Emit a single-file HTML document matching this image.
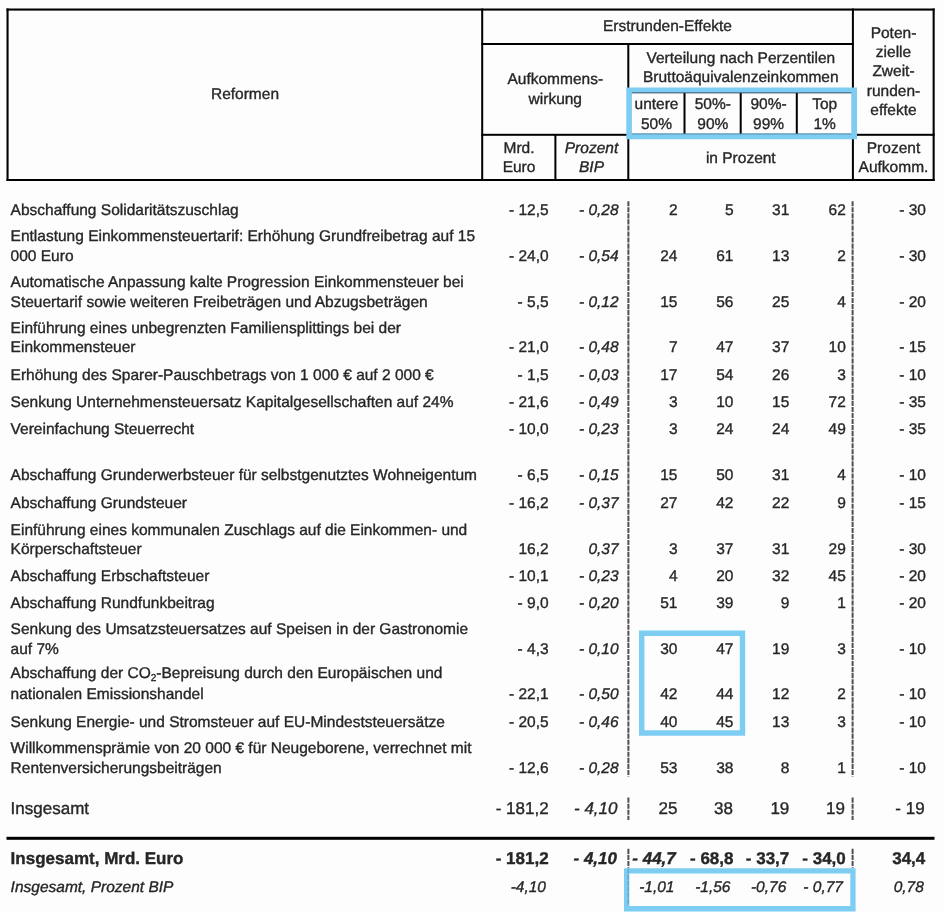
<!DOCTYPE html>
<html><head><meta charset="utf-8"><style>
html,body{margin:0;padding:0;background:#fdfdfd;overflow:hidden;}
body{width:945px;height:912px;position:relative;overflow:hidden;font-family:"Liberation Sans",sans-serif;color:#262626;}
.t{position:absolute;white-space:nowrap;line-height:20px;}
.t sub{font-size:10px;line-height:0;vertical-align:-3px;}
#tx{position:absolute;left:0;top:0;width:945px;height:912px;will-change:transform;text-rendering:geometricPrecision;-webkit-text-stroke:0.35px #262626;}
</style></head><body>
<svg width="945" height="912" style="position:absolute;left:0;top:0"><rect x="6.5" y="8.5" width="928.1" height="2.1" fill="#000"/><rect x="6.5" y="8.5" width="2.1" height="172.3" fill="#000"/><rect x="932.6" y="8.5" width="2.1" height="172.3" fill="#000"/><rect x="6.5" y="179.0" width="928.2" height="2.0" fill="#000"/><rect x="481.2" y="8.5" width="2.0" height="172.3" fill="#000"/><rect x="851.9" y="8.5" width="2.0" height="172.3" fill="#000"/><rect x="481.2" y="43.0" width="372.5" height="2.0" fill="#000"/><rect x="627.3" y="43.0" width="2.0" height="138.0" fill="#000"/><rect x="481.2" y="133.8" width="453.4" height="2.0" fill="#000"/><rect x="554.4" y="134.0" width="2.0" height="46.0" fill="#000"/><rect x="683.5" y="92.5" width="2.0" height="42.0" fill="#000"/><rect x="739.7" y="92.5" width="2.0" height="42.0" fill="#000"/><rect x="795.8" y="92.5" width="2.0" height="42.0" fill="#000"/><rect x="6.5" y="836.8" width="928.0" height="3.0" fill="#000"/><line x1="628.4" y1="201.2" x2="628.4" y2="776.5" stroke="#505050" stroke-width="2" stroke-dasharray="5.1 0.95"/><line x1="628.4" y1="797.6" x2="628.4" y2="820.0" stroke="#505050" stroke-width="2" stroke-dasharray="5.1 0.95"/><line x1="628.4" y1="848.8" x2="628.4" y2="867.8" stroke="#505050" stroke-width="2" stroke-dasharray="5.1 0.95"/><line x1="852.6" y1="201.2" x2="852.6" y2="776.5" stroke="#505050" stroke-width="2" stroke-dasharray="5.1 0.95"/><line x1="852.6" y1="797.6" x2="852.6" y2="820.0" stroke="#505050" stroke-width="2" stroke-dasharray="5.1 0.95"/><line x1="852.6" y1="848.8" x2="852.6" y2="867.8" stroke="#505050" stroke-width="2" stroke-dasharray="5.1 0.95"/><path fill="#7dcdf2" fill-rule="evenodd" d="M626.3 87.4H857.0V139.2H626.3Z M631.9 93.0V133.6H851.4V93.0Z"/><rect x="631.9" y="92.1" width="219.5" height="1.5" fill="rgba(20,40,60,0.5)"/><rect x="631.9" y="133.3" width="219.5" height="1.4" fill="rgba(0,30,60,0.22)"/><path fill="#7dcdf2" fill-rule="evenodd" d="M639.0 630.6H745.2V735.7H639.0Z M644.4 636.0V730.3000000000001H739.8000000000001V636.0Z"/><path fill="#7dcdf2" fill-rule="evenodd" d="M624.0 868.2H855.6V911.4H624.0Z M629.3 873.5V906.1H850.3000000000001V873.5Z"/><line x1="628.2" y1="868.5" x2="628.2" y2="905.5" stroke="rgba(30,60,90,0.22)" stroke-width="1.8" stroke-dasharray="5.1 0.95"/></svg>
<div id="tx"><div class="t" style="left:95.00px;width:300px;text-align:center;top:85.00px;font-size:15.5px;">Reformen</div>
<div class="t" style="left:517.50px;width:300px;text-align:center;top:17.20px;font-size:15.5px;">Erstrunden-Effekte</div>
<div class="t" style="left:405.30px;width:300px;text-align:center;top:70.40px;font-size:15.5px;">Aufkommens-</div>
<div class="t" style="left:405.30px;width:300px;text-align:center;top:89.70px;font-size:15.5px;">wirkung</div>
<div class="t" style="left:590.80px;width:300px;text-align:center;top:49.00px;font-size:15.5px;">Verteilung nach Perzentilen</div>
<div class="t" style="left:590.80px;width:300px;text-align:center;top:68.00px;font-size:15.5px;">Bruttoäquivalenzeinkommen</div>
<div class="t" style="left:628.50px;width:56px;text-align:center;top:95.30px;font-size:15.5px;">untere</div>
<div class="t" style="left:628.50px;width:56px;text-align:center;top:114.90px;font-size:15.5px;">50%</div>
<div class="t" style="left:684.80px;width:56px;text-align:center;top:95.30px;font-size:15.5px;">50%-</div>
<div class="t" style="left:684.80px;width:56px;text-align:center;top:114.90px;font-size:15.5px;">90%</div>
<div class="t" style="left:740.60px;width:56px;text-align:center;top:95.30px;font-size:15.5px;">90%-</div>
<div class="t" style="left:740.60px;width:56px;text-align:center;top:114.90px;font-size:15.5px;">99%</div>
<div class="t" style="left:796.70px;width:56px;text-align:center;top:95.30px;font-size:15.5px;">Top</div>
<div class="t" style="left:796.70px;width:56px;text-align:center;top:114.90px;font-size:15.5px;">1%</div>
<div class="t" style="left:853.50px;width:80px;text-align:center;top:23.60px;font-size:15.5px;">Poten-</div>
<div class="t" style="left:853.50px;width:80px;text-align:center;top:43.00px;font-size:15.5px;">zielle</div>
<div class="t" style="left:853.50px;width:80px;text-align:center;top:62.40px;font-size:15.5px;">Zweit-</div>
<div class="t" style="left:853.50px;width:80px;text-align:center;top:81.80px;font-size:15.5px;">runden-</div>
<div class="t" style="left:853.50px;width:80px;text-align:center;top:101.20px;font-size:15.5px;">effekte</div>
<div class="t" style="left:484.00px;width:70px;text-align:center;top:138.90px;font-size:15.5px;">Mrd.</div>
<div class="t" style="left:484.00px;width:70px;text-align:center;top:158.30px;font-size:15.5px;">Euro</div>
<div class="t" style="left:556.50px;width:70px;text-align:center;top:138.90px;font-size:15.5px;font-style:italic">Prozent</div>
<div class="t" style="left:556.50px;width:70px;text-align:center;top:158.30px;font-size:15.5px;font-style:italic">BIP</div>
<div class="t" style="left:590.80px;width:300px;text-align:center;top:148.50px;font-size:15.5px;">in Prozent</div>
<div class="t" style="left:853.50px;width:80px;text-align:center;top:138.50px;font-size:15.5px;">Prozent</div>
<div class="t" style="left:853.50px;width:80px;text-align:center;top:158.00px;font-size:15.5px;">Aufkomm.</div>
<div class="t" style="left:10.60px;top:200.50px;font-size:15.5px;">Abschaffung Solidaritätszuschlag</div>
<div class="t" style="left:468.60px;width:80px;text-align:right;top:200.50px;font-size:15.5px;">- 12,5</div>
<div class="t" style="left:538.60px;width:80px;text-align:right;top:200.50px;font-size:15.5px;font-style:italic">- 0,28</div>
<div class="t" style="left:597.50px;width:80px;text-align:right;top:200.50px;font-size:15.5px;">2</div>
<div class="t" style="left:653.50px;width:80px;text-align:right;top:200.50px;font-size:15.5px;">5</div>
<div class="t" style="left:709.30px;width:80px;text-align:right;top:200.50px;font-size:15.5px;">31</div>
<div class="t" style="left:765.80px;width:80px;text-align:right;top:200.50px;font-size:15.5px;">62</div>
<div class="t" style="left:846.00px;width:80px;text-align:right;top:200.50px;font-size:15.5px;">- 30</div>
<div class="t" style="left:10.60px;top:226.90px;font-size:15.5px;">Entlastung Einkommensteuertarif: Erhöhung Grundfreibetrag auf 15</div>
<div class="t" style="left:10.60px;top:246.80px;font-size:15.5px;">000 Euro</div>
<div class="t" style="left:468.60px;width:80px;text-align:right;top:246.80px;font-size:15.5px;">- 24,0</div>
<div class="t" style="left:538.60px;width:80px;text-align:right;top:246.80px;font-size:15.5px;font-style:italic">- 0,54</div>
<div class="t" style="left:597.50px;width:80px;text-align:right;top:246.80px;font-size:15.5px;">24</div>
<div class="t" style="left:653.50px;width:80px;text-align:right;top:246.80px;font-size:15.5px;">61</div>
<div class="t" style="left:709.30px;width:80px;text-align:right;top:246.80px;font-size:15.5px;">13</div>
<div class="t" style="left:765.80px;width:80px;text-align:right;top:246.80px;font-size:15.5px;">2</div>
<div class="t" style="left:846.00px;width:80px;text-align:right;top:246.80px;font-size:15.5px;">- 30</div>
<div class="t" style="left:10.60px;top:272.90px;font-size:15.5px;">Automatische Anpassung kalte Progression Einkommensteuer bei</div>
<div class="t" style="left:10.60px;top:292.50px;font-size:15.5px;">Steuertarif sowie weiteren Freibeträgen und Abzugsbeträgen</div>
<div class="t" style="left:468.60px;width:80px;text-align:right;top:292.50px;font-size:15.5px;">- 5,5</div>
<div class="t" style="left:538.60px;width:80px;text-align:right;top:292.50px;font-size:15.5px;font-style:italic">- 0,12</div>
<div class="t" style="left:597.50px;width:80px;text-align:right;top:292.50px;font-size:15.5px;">15</div>
<div class="t" style="left:653.50px;width:80px;text-align:right;top:292.50px;font-size:15.5px;">56</div>
<div class="t" style="left:709.30px;width:80px;text-align:right;top:292.50px;font-size:15.5px;">25</div>
<div class="t" style="left:765.80px;width:80px;text-align:right;top:292.50px;font-size:15.5px;">4</div>
<div class="t" style="left:846.00px;width:80px;text-align:right;top:292.50px;font-size:15.5px;">- 20</div>
<div class="t" style="left:10.60px;top:319.10px;font-size:15.5px;">Einführung eines unbegrenzten Familiensplittings bei der</div>
<div class="t" style="left:10.60px;top:338.20px;font-size:15.5px;">Einkommensteuer</div>
<div class="t" style="left:468.60px;width:80px;text-align:right;top:338.20px;font-size:15.5px;">- 21,0</div>
<div class="t" style="left:538.60px;width:80px;text-align:right;top:338.20px;font-size:15.5px;font-style:italic">- 0,48</div>
<div class="t" style="left:597.50px;width:80px;text-align:right;top:338.20px;font-size:15.5px;">7</div>
<div class="t" style="left:653.50px;width:80px;text-align:right;top:338.20px;font-size:15.5px;">47</div>
<div class="t" style="left:709.30px;width:80px;text-align:right;top:338.20px;font-size:15.5px;">37</div>
<div class="t" style="left:765.80px;width:80px;text-align:right;top:338.20px;font-size:15.5px;">10</div>
<div class="t" style="left:846.00px;width:80px;text-align:right;top:338.20px;font-size:15.5px;">- 15</div>
<div class="t" style="left:10.60px;top:365.70px;font-size:15.5px;">Erhöhung des Sparer-Pauschbetrags von 1 000 € auf 2 000 €</div>
<div class="t" style="left:468.60px;width:80px;text-align:right;top:365.70px;font-size:15.5px;">- 1,5</div>
<div class="t" style="left:538.60px;width:80px;text-align:right;top:365.70px;font-size:15.5px;font-style:italic">- 0,03</div>
<div class="t" style="left:597.50px;width:80px;text-align:right;top:365.70px;font-size:15.5px;">17</div>
<div class="t" style="left:653.50px;width:80px;text-align:right;top:365.70px;font-size:15.5px;">54</div>
<div class="t" style="left:709.30px;width:80px;text-align:right;top:365.70px;font-size:15.5px;">26</div>
<div class="t" style="left:765.80px;width:80px;text-align:right;top:365.70px;font-size:15.5px;">3</div>
<div class="t" style="left:846.00px;width:80px;text-align:right;top:365.70px;font-size:15.5px;">- 10</div>
<div class="t" style="left:10.60px;top:392.90px;font-size:15.5px;">Senkung Unternehmensteuersatz Kapitalgesellschaften auf 24%</div>
<div class="t" style="left:468.60px;width:80px;text-align:right;top:392.90px;font-size:15.5px;">- 21,6</div>
<div class="t" style="left:538.60px;width:80px;text-align:right;top:392.90px;font-size:15.5px;font-style:italic">- 0,49</div>
<div class="t" style="left:597.50px;width:80px;text-align:right;top:392.90px;font-size:15.5px;">3</div>
<div class="t" style="left:653.50px;width:80px;text-align:right;top:392.90px;font-size:15.5px;">10</div>
<div class="t" style="left:709.30px;width:80px;text-align:right;top:392.90px;font-size:15.5px;">15</div>
<div class="t" style="left:765.80px;width:80px;text-align:right;top:392.90px;font-size:15.5px;">72</div>
<div class="t" style="left:846.00px;width:80px;text-align:right;top:392.90px;font-size:15.5px;">- 35</div>
<div class="t" style="left:10.60px;top:420.00px;font-size:15.5px;">Vereinfachung Steuerrecht</div>
<div class="t" style="left:468.60px;width:80px;text-align:right;top:420.00px;font-size:15.5px;">- 10,0</div>
<div class="t" style="left:538.60px;width:80px;text-align:right;top:420.00px;font-size:15.5px;font-style:italic">- 0,23</div>
<div class="t" style="left:597.50px;width:80px;text-align:right;top:420.00px;font-size:15.5px;">3</div>
<div class="t" style="left:653.50px;width:80px;text-align:right;top:420.00px;font-size:15.5px;">24</div>
<div class="t" style="left:709.30px;width:80px;text-align:right;top:420.00px;font-size:15.5px;">24</div>
<div class="t" style="left:765.80px;width:80px;text-align:right;top:420.00px;font-size:15.5px;">49</div>
<div class="t" style="left:846.00px;width:80px;text-align:right;top:420.00px;font-size:15.5px;">- 35</div>
<div class="t" style="left:10.60px;top:466.30px;font-size:15.5px;">Abschaffung Grunderwerbsteuer für selbstgenutztes Wohneigentum</div>
<div class="t" style="left:468.60px;width:80px;text-align:right;top:466.30px;font-size:15.5px;">- 6,5</div>
<div class="t" style="left:538.60px;width:80px;text-align:right;top:466.30px;font-size:15.5px;font-style:italic">- 0,15</div>
<div class="t" style="left:597.50px;width:80px;text-align:right;top:466.30px;font-size:15.5px;">15</div>
<div class="t" style="left:653.50px;width:80px;text-align:right;top:466.30px;font-size:15.5px;">50</div>
<div class="t" style="left:709.30px;width:80px;text-align:right;top:466.30px;font-size:15.5px;">31</div>
<div class="t" style="left:765.80px;width:80px;text-align:right;top:466.30px;font-size:15.5px;">4</div>
<div class="t" style="left:846.00px;width:80px;text-align:right;top:466.30px;font-size:15.5px;">- 10</div>
<div class="t" style="left:10.60px;top:493.80px;font-size:15.5px;">Abschaffung Grundsteuer</div>
<div class="t" style="left:468.60px;width:80px;text-align:right;top:493.80px;font-size:15.5px;">- 16,2</div>
<div class="t" style="left:538.60px;width:80px;text-align:right;top:493.80px;font-size:15.5px;font-style:italic">- 0,37</div>
<div class="t" style="left:597.50px;width:80px;text-align:right;top:493.80px;font-size:15.5px;">27</div>
<div class="t" style="left:653.50px;width:80px;text-align:right;top:493.80px;font-size:15.5px;">42</div>
<div class="t" style="left:709.30px;width:80px;text-align:right;top:493.80px;font-size:15.5px;">22</div>
<div class="t" style="left:765.80px;width:80px;text-align:right;top:493.80px;font-size:15.5px;">9</div>
<div class="t" style="left:846.00px;width:80px;text-align:right;top:493.80px;font-size:15.5px;">- 15</div>
<div class="t" style="left:10.60px;top:520.70px;font-size:15.5px;">Einführung eines kommunalen Zuschlags auf die Einkommen- und</div>
<div class="t" style="left:10.60px;top:539.60px;font-size:15.5px;">Körperschaftsteuer</div>
<div class="t" style="left:468.60px;width:80px;text-align:right;top:539.60px;font-size:15.5px;">16,2</div>
<div class="t" style="left:538.60px;width:80px;text-align:right;top:539.60px;font-size:15.5px;font-style:italic">0,37</div>
<div class="t" style="left:597.50px;width:80px;text-align:right;top:539.60px;font-size:15.5px;">3</div>
<div class="t" style="left:653.50px;width:80px;text-align:right;top:539.60px;font-size:15.5px;">37</div>
<div class="t" style="left:709.30px;width:80px;text-align:right;top:539.60px;font-size:15.5px;">31</div>
<div class="t" style="left:765.80px;width:80px;text-align:right;top:539.60px;font-size:15.5px;">29</div>
<div class="t" style="left:846.00px;width:80px;text-align:right;top:539.60px;font-size:15.5px;">- 30</div>
<div class="t" style="left:10.60px;top:566.70px;font-size:15.5px;">Abschaffung Erbschaftsteuer</div>
<div class="t" style="left:468.60px;width:80px;text-align:right;top:566.70px;font-size:15.5px;">- 10,1</div>
<div class="t" style="left:538.60px;width:80px;text-align:right;top:566.70px;font-size:15.5px;font-style:italic">- 0,23</div>
<div class="t" style="left:597.50px;width:80px;text-align:right;top:566.70px;font-size:15.5px;">4</div>
<div class="t" style="left:653.50px;width:80px;text-align:right;top:566.70px;font-size:15.5px;">20</div>
<div class="t" style="left:709.30px;width:80px;text-align:right;top:566.70px;font-size:15.5px;">32</div>
<div class="t" style="left:765.80px;width:80px;text-align:right;top:566.70px;font-size:15.5px;">45</div>
<div class="t" style="left:846.00px;width:80px;text-align:right;top:566.70px;font-size:15.5px;">- 20</div>
<div class="t" style="left:10.60px;top:594.00px;font-size:15.5px;">Abschaffung Rundfunkbeitrag</div>
<div class="t" style="left:468.60px;width:80px;text-align:right;top:594.00px;font-size:15.5px;">- 9,0</div>
<div class="t" style="left:538.60px;width:80px;text-align:right;top:594.00px;font-size:15.5px;font-style:italic">- 0,20</div>
<div class="t" style="left:597.50px;width:80px;text-align:right;top:594.00px;font-size:15.5px;">51</div>
<div class="t" style="left:653.50px;width:80px;text-align:right;top:594.00px;font-size:15.5px;">39</div>
<div class="t" style="left:709.30px;width:80px;text-align:right;top:594.00px;font-size:15.5px;">9</div>
<div class="t" style="left:765.80px;width:80px;text-align:right;top:594.00px;font-size:15.5px;">1</div>
<div class="t" style="left:846.00px;width:80px;text-align:right;top:594.00px;font-size:15.5px;">- 20</div>
<div class="t" style="left:10.60px;top:620.40px;font-size:15.5px;">Senkung des Umsatzsteuersatzes auf Speisen in der Gastronomie</div>
<div class="t" style="left:10.60px;top:639.80px;font-size:15.5px;">auf 7%</div>
<div class="t" style="left:468.60px;width:80px;text-align:right;top:639.80px;font-size:15.5px;">- 4,3</div>
<div class="t" style="left:538.60px;width:80px;text-align:right;top:639.80px;font-size:15.5px;font-style:italic">- 0,10</div>
<div class="t" style="left:597.50px;width:80px;text-align:right;top:639.80px;font-size:15.5px;">30</div>
<div class="t" style="left:653.50px;width:80px;text-align:right;top:639.80px;font-size:15.5px;">47</div>
<div class="t" style="left:709.30px;width:80px;text-align:right;top:639.80px;font-size:15.5px;">19</div>
<div class="t" style="left:765.80px;width:80px;text-align:right;top:639.80px;font-size:15.5px;">3</div>
<div class="t" style="left:846.00px;width:80px;text-align:right;top:639.80px;font-size:15.5px;">- 10</div>
<div class="t" style="left:10.60px;top:664.40px;font-size:15.5px;">Abschaffung der CO<sub>2</sub>-Bepreisung durch den Europäischen und</div>
<div class="t" style="left:10.60px;top:685.40px;font-size:15.5px;">nationalen Emissionshandel</div>
<div class="t" style="left:468.60px;width:80px;text-align:right;top:685.40px;font-size:15.5px;">- 22,1</div>
<div class="t" style="left:538.60px;width:80px;text-align:right;top:685.40px;font-size:15.5px;font-style:italic">- 0,50</div>
<div class="t" style="left:597.50px;width:80px;text-align:right;top:685.40px;font-size:15.5px;">42</div>
<div class="t" style="left:653.50px;width:80px;text-align:right;top:685.40px;font-size:15.5px;">44</div>
<div class="t" style="left:709.30px;width:80px;text-align:right;top:685.40px;font-size:15.5px;">12</div>
<div class="t" style="left:765.80px;width:80px;text-align:right;top:685.40px;font-size:15.5px;">2</div>
<div class="t" style="left:846.00px;width:80px;text-align:right;top:685.40px;font-size:15.5px;">- 10</div>
<div class="t" style="left:10.60px;top:712.90px;font-size:15.5px;">Senkung Energie- und Stromsteuer auf EU-Mindeststeuersätze</div>
<div class="t" style="left:468.60px;width:80px;text-align:right;top:712.90px;font-size:15.5px;">- 20,5</div>
<div class="t" style="left:538.60px;width:80px;text-align:right;top:712.90px;font-size:15.5px;font-style:italic">- 0,46</div>
<div class="t" style="left:597.50px;width:80px;text-align:right;top:712.90px;font-size:15.5px;">40</div>
<div class="t" style="left:653.50px;width:80px;text-align:right;top:712.90px;font-size:15.5px;">45</div>
<div class="t" style="left:709.30px;width:80px;text-align:right;top:712.90px;font-size:15.5px;">13</div>
<div class="t" style="left:765.80px;width:80px;text-align:right;top:712.90px;font-size:15.5px;">3</div>
<div class="t" style="left:846.00px;width:80px;text-align:right;top:712.90px;font-size:15.5px;">- 10</div>
<div class="t" style="left:10.60px;top:738.90px;font-size:15.5px;">Willkommensprämie von 20 000 € für Neugeborene, verrechnet mit</div>
<div class="t" style="left:10.60px;top:758.90px;font-size:15.5px;">Rentenversicherungsbeiträgen</div>
<div class="t" style="left:468.60px;width:80px;text-align:right;top:758.90px;font-size:15.5px;">- 12,6</div>
<div class="t" style="left:538.60px;width:80px;text-align:right;top:758.90px;font-size:15.5px;font-style:italic">- 0,28</div>
<div class="t" style="left:597.50px;width:80px;text-align:right;top:758.90px;font-size:15.5px;">53</div>
<div class="t" style="left:653.50px;width:80px;text-align:right;top:758.90px;font-size:15.5px;">38</div>
<div class="t" style="left:709.30px;width:80px;text-align:right;top:758.90px;font-size:15.5px;">8</div>
<div class="t" style="left:765.80px;width:80px;text-align:right;top:758.90px;font-size:15.5px;">1</div>
<div class="t" style="left:846.00px;width:80px;text-align:right;top:758.90px;font-size:15.5px;">- 10</div>
<div class="t" style="left:10.60px;top:799.30px;font-size:17px;">Insgesamt</div>
<div class="t" style="left:468.60px;width:80px;text-align:right;top:799.30px;font-size:17px;">- 181,2</div>
<div class="t" style="left:537.50px;width:80px;text-align:right;top:799.30px;font-size:17px;font-style:italic">- 4,10</div>
<div class="t" style="left:597.50px;width:80px;text-align:right;top:799.30px;font-size:17px;">25</div>
<div class="t" style="left:653.00px;width:80px;text-align:right;top:799.30px;font-size:17px;">38</div>
<div class="t" style="left:709.30px;width:80px;text-align:right;top:799.30px;font-size:17px;">19</div>
<div class="t" style="left:765.00px;width:80px;text-align:right;top:799.30px;font-size:17px;">19</div>
<div class="t" style="left:844.60px;width:80px;text-align:right;top:799.30px;font-size:17px;">- 19</div>
<div class="t" style="left:10.60px;top:849.30px;font-size:17px;font-weight:bold">Insgesamt, Mrd. Euro</div>
<div class="t" style="left:468.60px;width:80px;text-align:right;top:849.30px;font-size:17px;font-weight:bold;">- 181,2</div>
<div class="t" style="left:537.00px;width:80px;text-align:right;top:849.30px;font-size:17px;font-weight:bold;font-style:italic">- 4,10</div>
<div class="t" style="left:595.80px;width:80px;text-align:right;top:849.30px;font-size:17px;font-weight:bold;font-style:italic">- 44,7</div>
<div class="t" style="left:653.50px;width:80px;text-align:right;top:849.30px;font-size:17px;font-weight:bold;">- 68,8</div>
<div class="t" style="left:709.30px;width:80px;text-align:right;top:849.30px;font-size:17px;font-weight:bold;">- 33,7</div>
<div class="t" style="left:765.80px;width:80px;text-align:right;top:849.30px;font-size:17px;font-weight:bold;">- 34,0</div>
<div class="t" style="left:845.30px;width:80px;text-align:right;top:849.30px;font-size:17px;font-weight:bold;">34,4</div>
<div class="t" style="left:10.60px;top:877.50px;font-size:15.5px;font-style:italic">Insgesamt, Prozent BIP</div>
<div class="t" style="left:466.00px;width:80px;text-align:right;top:877.50px;font-size:15.5px;font-style:italic">-4,10</div>
<div class="t" style="left:594.50px;width:80px;text-align:right;top:877.50px;font-size:15.5px;font-style:italic">-1,01</div>
<div class="t" style="left:650.50px;width:80px;text-align:right;top:877.50px;font-size:15.5px;font-style:italic">-1,56</div>
<div class="t" style="left:706.30px;width:80px;text-align:right;top:877.50px;font-size:15.5px;font-style:italic">-0,76</div>
<div class="t" style="left:763.00px;width:80px;text-align:right;top:877.50px;font-size:15.5px;font-style:italic">- 0,77</div>
<div class="t" style="left:843.80px;width:80px;text-align:right;top:877.50px;font-size:15.5px;font-style:italic">0,78</div></div>
</body></html>
